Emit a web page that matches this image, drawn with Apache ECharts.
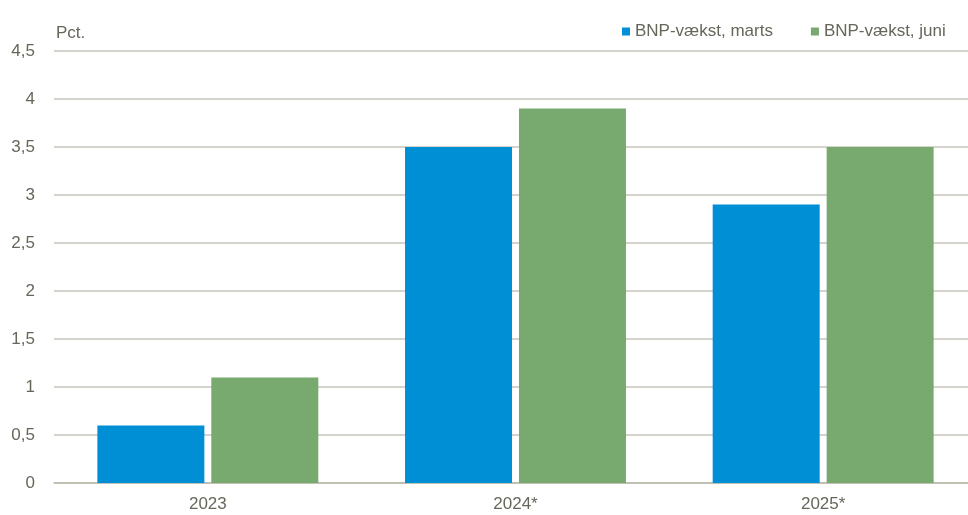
<!DOCTYPE html>
<html>
<head>
<meta charset="utf-8">
<script src="https://cdn.jsdelivr.net/npm/echarts@6/dist/echarts.min.js"></script>
<style>
html,body{margin:0;padding:0;background:#fff;}
#c{width:968px;height:515px;}
</style>
</head>
<body>
<div id="c"></div>
<script>
var categories = ['2023', '2024*', '2025*'];
var seriesNames = ['BNP-vækst, marts', 'BNP-vækst, juni'];
var marts = [0.6, 3.5, 2.9];
var juni = [1.1, 3.9, 3.5];
var yTicks = {min: 0, max: 4.5, interval: 0.5};

var FONT = '"Liberation Sans", Arial, sans-serif';
var TXT = '#66665a';
var chart = echarts.init(document.getElementById('c'), null, {renderer: 'canvas'});
chart.setOption({
  animation: false,
  backgroundColor: '#ffffff',
  title: {
    text: 'Pct.',
    left: 51, top: 20,
    textStyle: {fontFamily: FONT, fontSize: 17, fontWeight: 'normal', color: TXT}
  },
  legend: {
    left: 617, top: 18, width: 360,
    orient: 'horizontal',
    icon: 'rect', itemWidth: 8, itemHeight: 8, itemGap: 38,
    textStyle: {fontFamily: FONT, fontSize: 17, color: TXT},
    data: seriesNames
  },
  grid: {left: 54, top: 51, width: 923, height: 432, outerBoundsMode: 'none', containLabel: false},
  xAxis: {
    type: 'category',
    data: categories,
    axisTick: {show: false},
    axisLine: {lineStyle: {color: '#b9b9ad', width: 1.5}},
    axisLabel: {fontFamily: FONT, fontSize: 17, color: TXT, margin: 13}
  },
  yAxis: {
    type: 'value',
    min: yTicks.min, max: yTicks.max, interval: yTicks.interval,
    axisLine: {show: false},
    axisTick: {show: false},
    splitLine: {lineStyle: {color: '#c6c6bc', width: 1.5}},
    axisLabel: {
      fontFamily: FONT, fontSize: 17, color: TXT, margin: 19,
      formatter: function (v) { return String(v).replace('.', ','); }
    }
  },
  series: [
    {name: seriesNames[0], type: 'bar', data: marts, barWidth: 107, barGap: '6.5%',
     itemStyle: {color: '#008fd5'}},
    {name: seriesNames[1], type: 'bar', data: juni, barWidth: 107,
     itemStyle: {color: '#78a96f'}}
  ]
});
</script>
</body>
</html>
